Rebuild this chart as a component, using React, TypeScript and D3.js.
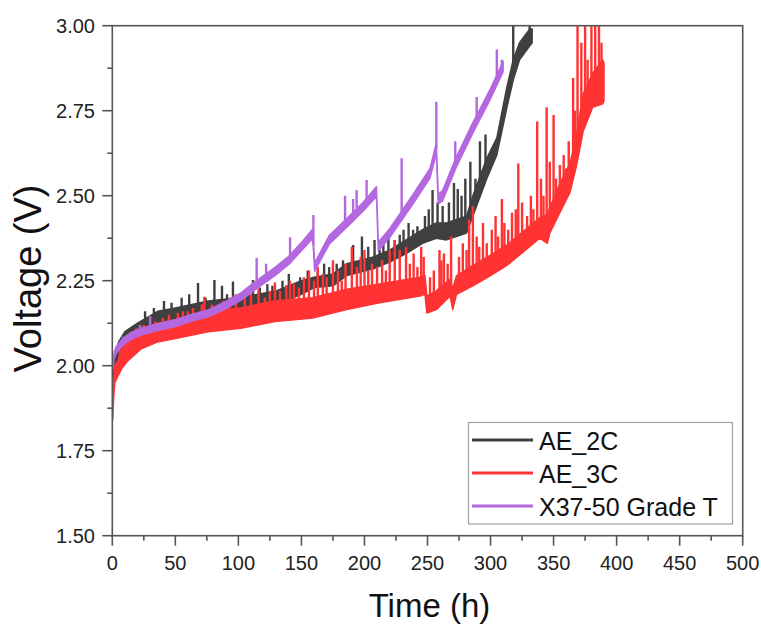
import React from 'react';
import * as d3 from 'd3';

const X_TICKS = [0, 50, 100, 150, 200, 250, 300, 350, 400, 450, 500];
const Y_TICKS = [1.5, 1.75, 2.0, 2.25, 2.5, 2.75, 3.0];
const SERIES_NAMES = ['AE_2C', 'AE_3C', 'X37-50 Grade T'];
const SERIES_COLORS = ['#404040', '#ff3333', '#b468e0'];

// [time (h), lower voltage (V), upper voltage (V)] of the noisy band
const AE2C_BAND: [number, number, number][] = [
  [0.5, 1.92, 1.97], [2, 1.98, 2.03], [5, 2.03, 2.07], [10, 2.06, 2.1], [20, 2.09, 2.125],
  [36, 2.12, 2.16], [50, 2.13, 2.17], [76, 2.15, 2.19], [100, 2.16, 2.2], [130, 2.18, 2.22],
  [150, 2.21, 2.25], [160, 2.23, 2.26], [175, 2.235, 2.27], [186, 2.265, 2.3], [207, 2.285, 2.32],
  [220, 2.305, 2.34], [233, 2.33, 2.37], [246, 2.36, 2.4], [257, 2.375, 2.42], [265, 2.37, 2.42],
  [273, 2.38, 2.43], [281, 2.39, 2.44], [286, 2.44, 2.5], [297, 2.55, 2.61], [305, 2.62, 2.67],
  [313, 2.76, 2.82], [318, 2.84, 2.9], [323, 2.9, 2.95], [331, 2.94, 2.99], [333, 2.95, 2.99],
];
// [time (h), spike top (V)]
const AE2C_SPIKES: [number, number][] = [
  [26, 2.16], [33, 2.17], [41, 2.19], [47, 2.185], [55, 2.2], [61, 2.21], [68, 2.243], [74, 2.2],
  [81, 2.252], [87, 2.235], [91, 2.21], [95.7, 2.248], [104, 2.22], [111.6, 2.252], [117, 2.23],
  [123, 2.24], [127, 2.235], [135, 2.25], [140, 2.27], [149, 2.26], [155, 2.28], [163, 2.28],
  [168, 2.3], [172, 2.29], [178, 2.3], [183, 2.31], [191, 2.355], [198, 2.38], [203, 2.35],
  [208, 2.37], [212, 2.34], [215, 2.36], [219, 2.38], [224, 2.37], [228, 2.385], [231, 2.4],
  [235, 2.42], [238.6, 2.4], [242, 2.41], [248, 2.44], [251, 2.46], [254, 2.517], [258, 2.48],
  [262, 2.47], [267, 2.48], [271, 2.537], [274, 2.52], [277, 2.5], [280, 2.55], [284, 2.6],
  [288, 2.55], [291.6, 2.66], [296, 2.68], [318, 3.0], [331, 3.0],
];

const AE3C_BAND: [number, number, number][] = [
  [0.3, 1.84, 1.9], [1, 1.9, 1.96], [2, 1.95, 2.0], [4.5, 1.97, 2.015], [8, 1.995, 2.05],
  [12.5, 2.015, 2.07], [23, 2.05, 2.105], [36, 2.07, 2.125], [50, 2.08, 2.135], [76, 2.1, 2.16],
  [102, 2.11, 2.17], [129, 2.13, 2.19], [159, 2.14, 2.2], [186, 2.165, 2.225], [212, 2.185, 2.24],
  [244, 2.205, 2.26], [248, 2.21, 2.265], [249.5, 2.155, 2.205], [257, 2.165, 2.22], [268, 2.205, 2.255],
  [270, 2.165, 2.225], [273, 2.21, 2.265], [286, 2.235, 2.295], [300, 2.265, 2.325], [313, 2.295, 2.355],
  [326, 2.335, 2.395], [339, 2.375, 2.435], [345, 2.36, 2.445], [347, 2.39, 2.465], [355, 2.45, 2.535],
  [363, 2.51, 2.595], [368, 2.585, 2.675], [373.5, 2.69, 2.8], [381, 2.76, 2.86], [389, 2.77, 2.9],
  [390, 2.78, 2.89],
];
const AE3C_SPIKES: [number, number][] = [
  [6, 2.06], [10, 2.08], [15, 2.1], [19, 2.11], [25, 2.12], [30, 2.13], [34, 2.13], [40, 2.14],
  [45, 2.15], [52, 2.155], [56, 2.16], [60, 2.16], [64, 2.17], [71, 2.18], [73, 2.203], [79, 2.18],
  [84, 2.17], [88, 2.19], [93, 2.2], [98, 2.21], [105, 2.205], [110, 2.21], [116, 2.226], [121, 2.2],
  [125, 2.22], [129, 2.245], [133, 2.22], [138, 2.237], [141, 2.25], [144, 2.24], [148, 2.23],
  [152, 2.26], [156, 2.28], [160, 2.25], [163, 2.29], [167, 2.27], [170, 2.26], [175, 2.31],
  [179, 2.28], [182, 2.25], [185, 2.3], [190, 2.35], [194, 2.29], [197, 2.32], [200, 2.34],
  [203, 2.28], [206, 2.3], [210, 2.29], [214, 2.31], [217, 2.28], [220, 2.34], [224, 2.37],
  [228, 2.34], [233, 2.35], [236, 2.3], [239, 2.33], [242, 2.29], [245, 2.35], [247, 2.32],
  [252, 2.26], [255, 2.28], [259.5, 2.34], [261, 2.31], [263, 2.33], [266, 2.3], [268.7, 2.38],
  [275, 2.32], [278, 2.36], [281, 2.34], [283, 2.43], [286, 2.47], [289, 2.38], [291, 2.35],
  [294, 2.42], [297, 2.36], [301, 2.4], [304, 2.44], [306, 2.38], [309, 2.49], [311, 2.42],
  [314, 2.4], [317, 2.45], [320, 2.46], [322, 2.595], [325, 2.48], [329, 2.44], [332, 2.5],
  [334, 2.46], [337, 2.718], [340, 2.55], [342, 2.5], [344.5, 2.76], [347, 2.6], [350, 2.737],
  [352, 2.55], [355, 2.59], [358, 2.62], [360, 2.58], [362, 2.66], [365.5, 2.846], [367, 2.75],
  [369, 3.0], [372, 2.95], [375, 3.0], [377, 2.9], [380, 3.0], [383, 3.0], [386, 3.0], [388, 2.95],
];

const X37_BAND: [number, number, number][] = [
  [0.5, 1.99, 2.01], [1.5, 2.02, 2.04], [3, 2.036, 2.056], [6, 2.05, 2.07], [10, 2.065, 2.085],
  [15, 2.078, 2.098], [23, 2.09, 2.11], [35, 2.103, 2.123], [50, 2.115, 2.135], [62, 2.13, 2.15],
  [76, 2.144, 2.164], [90, 2.167, 2.189], [102, 2.192, 2.214], [115, 2.228, 2.252], [129, 2.265, 2.289],
  [140, 2.298, 2.322], [150, 2.338, 2.362], [159, 2.375, 2.402], [160.5, 2.278, 2.302], [172, 2.357, 2.383],
  [186, 2.407, 2.433], [199, 2.455, 2.481], [209.5, 2.498, 2.526], [211, 2.337, 2.363], [220, 2.377, 2.403],
  [238, 2.473, 2.501], [252, 2.552, 2.58], [257, 2.625, 2.655], [258.5, 2.476, 2.504], [262, 2.485, 2.515],
  [273, 2.585, 2.615], [286, 2.685, 2.715], [300, 2.785, 2.815], [310, 2.865, 2.895],
];
const X37_SPIKES: [number, number][] = [
  [8.5, 2.085], [22, 2.12], [30, 2.146], [114.5, 2.317], [122, 2.3], [141, 2.378], [159.5, 2.443],
  [184.6, 2.5], [191, 2.49], [193.8, 2.517], [201.7, 2.546], [229.5, 2.61], [257, 2.776], [272, 2.66],
  [289, 2.79], [305, 2.93], [309, 2.9],
];

const BANDS = [AE2C_BAND, AE3C_BAND, X37_BAND];
const SPIKES = [AE2C_SPIKES, AE3C_SPIKES, X37_SPIKES];

const W = 761;
const H = 624;
const L = 112.3;
const R = 742.7;
const T = 25.7;
const B = 535.7;
const FONT = '"Liberation Sans", Arial, Helvetica, sans-serif';

export default function App() {
  const x = d3.scaleLinear().domain([0, 500]).range([L, R]);
  const y = d3.scaleLinear().domain([1.5, 3.0]).range([B, T]);

  const area = d3
    .area<[number, number, number]>()
    .x((d) => x(d[0]))
    .y0((d) => y(d[1]))
    .y1((d) => y(d[2]));

  const bis = d3.bisector((d: [number, number, number]) => d[0]).left;
  const mid = (band: [number, number, number][], t: number) => {
    const i = bis(band, t);
    if (i <= 0) return (band[0][1] + band[0][2]) / 2;
    if (i >= band.length) {
      const e = band[band.length - 1];
      return (e[1] + e[2]) / 2;
    }
    const a = band[i - 1];
    const b = band[i];
    const k = (t - a[0]) / (b[0] - a[0] || 1);
    return d3.interpolateNumber((a[1] + a[2]) / 2, (b[1] + b[2]) / 2)(k);
  };

  const xMinor = d3.range(25, 500, 50);
  const yMinor = d3.range(1.625, 3.0, 0.25);
  const axisColor = '#555';

  return (
    <svg
      width={W}
      height={H}
      style={{ position: 'absolute', left: 0, top: 0, background: '#fff' }}
      fontFamily={FONT}
    >
      <defs>
        <clipPath id="plot">
          <rect x={L} y={T} width={R - L} height={B - T} />
        </clipPath>
      </defs>
      <rect x={0} y={0} width={W} height={H} fill="#fff" />

      <g clipPath="url(#plot)">
        {BANDS.map((band, si) => (
          <g key={si}>
            <path
              d={area(band) || ''}
              fill={SERIES_COLORS[si]}
              stroke={SERIES_COLORS[si]}
              strokeWidth={1.5}
              strokeLinejoin="round"
            />
            {SPIKES[si].map((s, j) => (
              <line
                key={j}
                x1={x(s[0])}
                x2={x(s[0])}
                y1={y(mid(band, s[0]))}
                y2={y(s[1])}
                stroke={SERIES_COLORS[si]}
                strokeWidth={2.4}
              />
            ))}
          </g>
        ))}
      </g>

      {/* frame */}
      <rect x={L} y={T} width={R - L} height={B - T} fill="none" stroke={axisColor} strokeWidth={1.6} />

      {/* x ticks */}
      {X_TICKS.map((t) => (
        <g key={'xt' + t}>
          <line x1={x(t)} x2={x(t)} y1={B} y2={B + 10} stroke={axisColor} strokeWidth={1.6} />
          <text x={x(t)} y={570} fontSize={20} textAnchor="middle" fill="#222">
            {t}
          </text>
        </g>
      ))}
      {xMinor.map((t) => (
        <line key={'xm' + t} x1={x(t)} x2={x(t)} y1={B} y2={B + 5} stroke={axisColor} strokeWidth={1.6} />
      ))}

      {/* y ticks */}
      {Y_TICKS.map((v) => (
        <g key={'yt' + v}>
          <line x1={L - 10} x2={L} y1={y(v)} y2={y(v)} stroke={axisColor} strokeWidth={1.6} />
          <text x={95} y={y(v) + 7} fontSize={20} textAnchor="end" fill="#222">
            {v.toFixed(2)}
          </text>
        </g>
      ))}
      {yMinor.map((v) => (
        <line key={'ym' + v} x1={L - 5} x2={L} y1={y(v)} y2={y(v)} stroke={axisColor} strokeWidth={1.6} />
      ))}

      {/* axis titles */}
      <text x={429.5} y={617} fontSize={33} textAnchor="middle" fill="#111">
        Time (h)
      </text>
      <text
        transform={`translate(41, 278.5) rotate(-90)`}
        fontSize={38}
        textAnchor="middle"
        fill="#111"
      >
        Voltage (V)
      </text>

      {/* legend */}
      <rect x={468.5} y={422.5} width={264} height={101.5} fill="#fff" stroke="#a0a0a0" strokeWidth={1.2} />
      {SERIES_NAMES.map((name, i) => (
        <g key={name}>
          <line
            x1={472}
            x2={533}
            y1={440 + i * 33}
            y2={440 + i * 33}
            stroke={SERIES_COLORS[i]}
            strokeWidth={3}
          />
          <text x={539} y={449.5 + i * 33} fontSize={25} fill="#111">
            {name}
          </text>
        </g>
      ))}
    </svg>
  );
}
